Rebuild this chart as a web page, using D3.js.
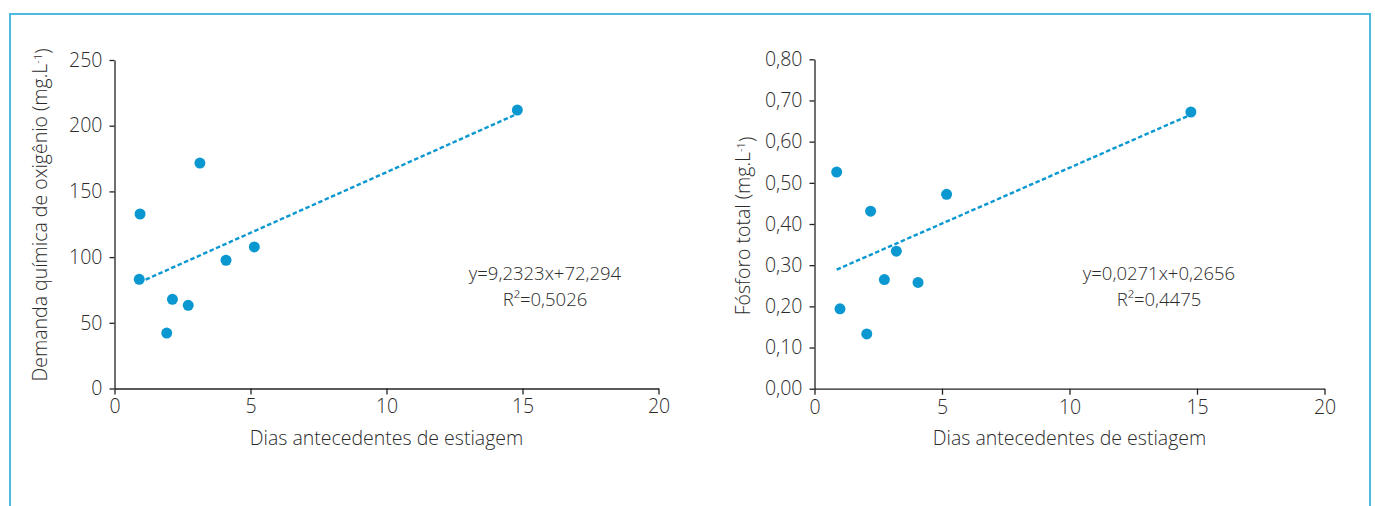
<!DOCTYPE html>
<html>
<head>
<meta charset="utf-8">
<script src="https://cdn.jsdelivr.net/npm/d3@7"></script>
<style>
  html, body { margin: 0; padding: 0; background: #fff; }
  svg { display: block; }
  text { font-family: "Open Sans", "Lato", sans-serif; font-weight: 300; fill: #2b2b2b; }
</style>
</head>
<body>
<svg id="chart" width="1375" height="506"></svg>
<script>
// Dias antecedentes de estiagem x DQO
const diasDQO = [0.94, 0.91, 3.14, 2.13, 2.71, 1.92, 4.10, 5.14, 14.81];
const valoresDQO = [132.8, 83.1, 171.6, 67.9, 63.3, 42.2, 97.6, 107.7, 211.9];
const ticksDQO = [0, 50, 100, 150, 200, 250];
const tendDQO = { a: 9.2323, b: 72.294, r2: "0,5026", eq: "y=9,2323x+72,294" };

// Dias antecedentes de estiagem x fósforo total
const diasPT = [0.87, 1.0, 2.05, 2.2, 2.74, 3.21, 4.06, 5.18, 14.76];
const valoresPT = [0.526, 0.194, 0.133, 0.431, 0.265, 0.334, 0.258, 0.472, 0.672];
const ticksPT = [0, 0.1, 0.2, 0.3, 0.4, 0.5, 0.6, 0.7, 0.8];
const tendPT = { a: 0.0271, b: 0.2656, r2: "0,4475", eq: "y=0,0271x+0,2656" };

const ticksDias = [0, 5, 10, 15, 20];
const tituloX = "Dias antecedentes de estiagem";

const azul = "#0b98d1";
const fonte = "19.5px";
const svg = d3.select("#chart");

svg.append("rect")
  .attr("x", 10).attr("y", 14)
  .attr("width", 1360).attr("height", 600)
  .attr("fill", "none")
  .attr("stroke", "#4db8e0")
  .attr("stroke-width", 2);

function painel(cfg) {
  const x = d3.scaleLinear().domain([0, 20]).range([cfg.x0, cfg.x1]);
  const y = d3.scaleLinear().domain([0, cfg.yMax]).range([cfg.yBottom, cfg.yTop]);
  const g = svg.append("g");

  const eixoX = g.append("g")
    .attr("transform", `translate(0,${cfg.yBottom})`)
    .call(d3.axisBottom(x).tickValues(ticksDias).tickSize(6).tickSizeOuter(0).tickPadding(5).tickFormat(d3.format("d")));
  const eixoY = g.append("g")
    .attr("transform", `translate(${cfg.x0},0)`)
    .call(d3.axisLeft(y).tickValues(cfg.ticks).tickSize(5).tickSizeOuter(0).tickPadding(7).tickFormat(cfg.fmt));

  [eixoX, eixoY].forEach(a => {
    a.selectAll("path, line").attr("stroke", "#222").attr("stroke-width", 1.3);
    a.selectAll("text").style("font-size", fonte).attr("fill", "#2b2b2b");
  });

  // linha de tendência linear
  const xs = d3.extent(cfg.dias);
  const linha = xs.map(v => [v, cfg.tend.a * v + cfg.tend.b]);
  g.append("path")
    .attr("d", d3.line().x(d => x(d[0])).y(d => y(d[1]))(linha))
    .attr("fill", "none")
    .attr("stroke", azul)
    .attr("stroke-width", 2.4)
    .attr("stroke-dasharray", "4.5,2.5");

  g.selectAll("circle.pt")
    .data(cfg.dias.map((d, i) => [d, cfg.valores[i]]))
    .join("circle")
    .attr("class", "pt")
    .attr("cx", d => x(d[0]))
    .attr("cy", d => y(d[1]))
    .attr("r", 5.5)
    .attr("fill", azul);

  // equação e R²
  g.append("text")
    .attr("x", cfg.eqX).attr("y", 280)
    .attr("text-anchor", "middle")
    .style("font-size", "18.5px")
    .text(cfg.tend.eq);
  g.append("text")
    .attr("x", cfg.eqX).attr("y", 306)
    .attr("text-anchor", "middle")
    .style("font-size", "18.5px")
    .text("R²=" + cfg.tend.r2);

  // títulos dos eixos
  g.append("text")
    .attr("x", (cfg.x0 + cfg.x1) / 2).attr("y", 445)
    .attr("text-anchor", "middle")
    .style("font-size", fonte)
    .text(tituloX);

  const ty = g.append("text")
    .attr("transform", `translate(${cfg.yTitleX},${cfg.yTitleY}) rotate(-90)`)
    .attr("text-anchor", "middle")
    .style("font-size", fonte);
  ty.append("tspan").text(cfg.yTitulo);
  ty.append("tspan").attr("dy", "-0.45em").style("font-size", "11px").text("-1");
  ty.append("tspan").attr("dy", "0.45em").text(")");
}

painel({
  x0: 114.5, x1: 658.5, yBottom: 388.5, yTop: 60, yMax: 250,
  ticks: ticksDQO, fmt: d3.format("d"),
  dias: diasDQO, valores: valoresDQO, tend: tendDQO,
  eqX: 545, yTitleX: 46.5, yTitleY: 215,
  yTitulo: "Demanda química de oxigênio (mg.L"
});

painel({
  x0: 814.5, x1: 1324.5, yBottom: 388.7, yTop: 59.3, yMax: 0.8,
  ticks: ticksPT, fmt: v => d3.format(".2f")(v).replace(".", ","),
  dias: diasPT, valores: valoresPT, tend: tendPT,
  eqX: 1159, yTitleX: 750, yTitleY: 226,
  yTitulo: "Fósforo total (mg.L"
});
</script>
</body>
</html>
